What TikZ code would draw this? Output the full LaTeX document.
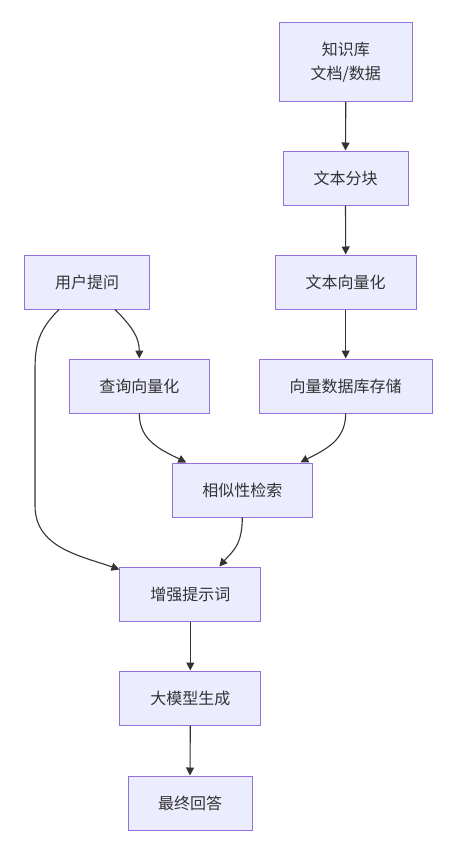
\documentclass[tikz,border=0pt]{standalone}
\usepackage{fontspec}
\setmainfont{Noto Sans CJK SC}
\usetikzlibrary{arrows.meta}
\definecolor{boxfill}{HTML}{ECECFF}
\definecolor{boxline}{HTML}{9370DB}
\definecolor{ink}{HTML}{333333}
\begin{document}
\begin{tikzpicture}[x=1pt,y=-1pt,
  box/.style={draw=boxline,fill=boxfill,line width=1pt,text=ink,
    font=\fontsize{16}{24}\selectfont,align=center,inner sep=0pt,
    minimum height=54pt},
  link/.style={draw=ink,line width=1.1pt,-{Triangle[length=8pt,width=8pt]}}]
\useasboundingbox (0,0) rectangle (455,851);
\node[box,minimum width=133pt,minimum height=78pt] (kb) at (345.8,62) {知识库\\文档/数据};
\node[box,minimum width=125pt] (chunk) at (345.5,178) {文本分块};
\node[box,minimum width=141pt] (tvec) at (345.7,282) {文本向量化};
\node[box,minimum width=124.6pt] (user) at (87,282) {用户提问};
\node[box,minimum width=140pt] (qvec) at (139.3,386) {查询向量化};
\node[box,minimum width=172.7pt] (vdb) at (345.7,386) {向量数据库存储};
\node[box,minimum width=140pt] (sim) at (242.3,490) {相似性检索};
\node[box,minimum width=140.7pt] (aug) at (190.3,594) {增强提示词};
\node[box,minimum width=140.7pt] (llm) at (190.3,698) {大模型生成};
\node[box,minimum width=124pt] (ans) at (190,803) {最终回答};

\draw[link] (kb.south) -- (chunk.north);
\draw[link] (chunk.south) -- (tvec.north);
\draw[link] (tvec.south) -- (vdb.north);
\draw[link] ([xshift=28pt]user.south) .. controls +(17,17) and +(0,-21) .. (qvec.north);
\draw[link] ([xshift=-28pt]user.south) .. controls +(-21,21) and +(0,-25) .. ++(-24,61)
  -- ++(0,135) .. controls +(0,42) and +(-40,-14) .. ([yshift=-3pt]aug.north west);
\draw[link] (qvec.south) .. controls +(0,27) and +(-26,-13) .. ([xshift=-56pt]sim.north);
\draw[link] (vdb.south) .. controls +(0,27) and +(25,-13) .. ([xshift=58pt]sim.north);
\draw[link] (sim.south) .. controls +(0,28) and +(13,-15) .. ([xshift=29pt]aug.north);
\draw[link] (aug.south) -- (llm.north);
\draw[link] (llm.south) -- (ans.north);
\end{tikzpicture}
\end{document}
